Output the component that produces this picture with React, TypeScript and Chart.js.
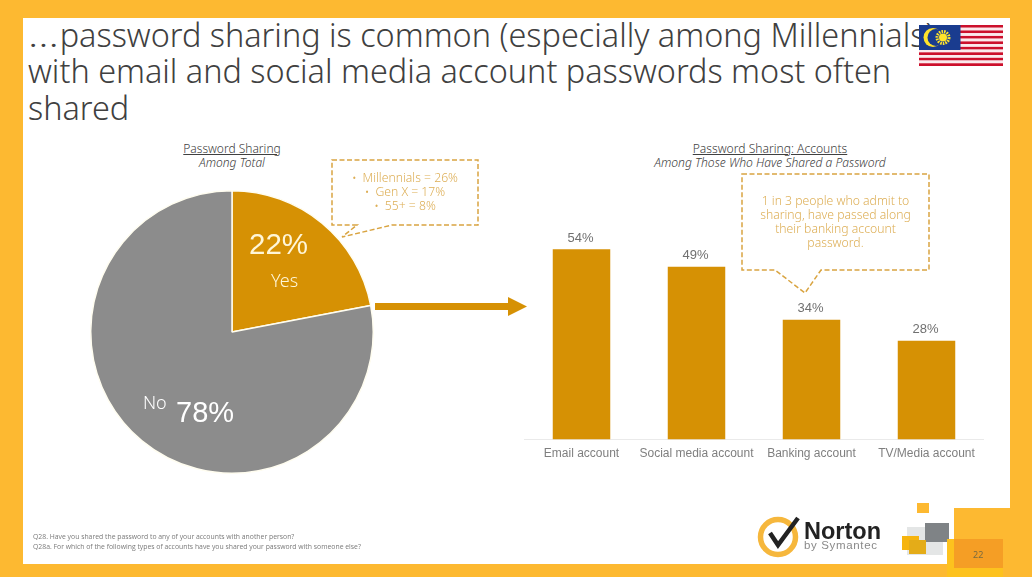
import React, { useEffect, useRef } from "react";
import { Chart, registerables } from "chart.js";

Chart.register(...registerables);

const pieLabels = ["Yes", "No"];
const pieValues = [22, 78];
const barCategories = ["Email account", "Social media account", "Banking account", "TV/Media account"];
const barValues = [54, 49, 34, 28];

const titleLines = [
  "password sharing is common (especially among Millennials)",
  "with email and social media account passwords most often",
  "shared",
];
const calloutGenerations = ["Millennials = 26%", "Gen X = 17%", "55+ = 8%"];
const calloutBanking = ["1 in 3 people who admit to", "sharing, have passed along", "their banking account", "password."];
const footnotes = [
  "Q28. Have you shared the password to any of your accounts with another person?",
  "Q28a. For which of the following types of accounts have you shared your password with someone else?",
];

const YELLOW = "#FDB931";
const GOLD = "#D69104";
const GREY = "#8C8C8C";
const LIGHT = '"Noto Sans", sans-serif';
const ARIAL = '"Liberation Sans", Arial, sans-serif';

const abs = (x: number, y: number, extra: React.CSSProperties = {}): React.CSSProperties => ({
  position: "absolute",
  left: x,
  top: y,
  whiteSpace: "nowrap",
  ...extra,
});

const valueLabels = {
  id: "valueLabels",
  afterDatasetsDraw(chart: any) {
    const { ctx } = chart;
    const meta = chart.getDatasetMeta(0);
    ctx.save();
    ctx.font = `13px ${ARIAL}`;
    ctx.fillStyle = "#707070";
    ctx.textAlign = "center";
    ctx.textBaseline = "alphabetic";
    meta.data.forEach((bar: any, i: number) => {
      ctx.fillText(`${barValues[i]}%`, bar.x - 1, bar.y - 7.5);
    });
    ctx.restore();
  },
};

export default function App() {
  const pieRef = useRef<HTMLCanvasElement>(null);
  const barRef = useRef<HTMLCanvasElement>(null);

  useEffect(() => {
    document.body.style.margin = "0";
    const pie = new Chart(pieRef.current!, {
      type: "pie",
      data: {
        labels: pieLabels,
        datasets: [{ data: pieValues, backgroundColor: [GOLD, GREY], borderColor: "#FFFDF0", borderWidth: 1.5 }],
      },
      options: {
        responsive: false,
        animation: false,
        layout: { padding: 8 },
        plugins: { legend: { display: false }, tooltip: { enabled: false } },
      },
    });
    const bar = new Chart(barRef.current!, {
      type: "bar",
      data: {
        labels: barCategories,
        datasets: [{ data: barValues, backgroundColor: GOLD, categoryPercentage: 0.5, barPercentage: 1 }],
      },
      options: {
        responsive: false,
        animation: false,
        layout: { padding: { top: 28, bottom: 2, left: 0, right: 0 } },
        plugins: { legend: { display: false }, tooltip: { enabled: false } },
        scales: {
          x: {
            grid: { display: false, drawTicks: false },
            border: { color: "#EAEAEA" },
            ticks: { color: "#7f7f7f", font: { family: ARIAL, size: 12 }, padding: 7, maxRotation: 0, autoSkip: false },
          },
          y: { display: false, min: 0, max: 60 },
        },
      },
      plugins: [valueLabels],
    });
    return () => {
      pie.destroy();
      bar.destroy();
    };
  }, []);

  const stripes = Array.from({ length: 15 }, (_, i) => i);

  return (
    <div style={{ position: "relative", width: 1032, height: 577, background: YELLOW, overflow: "hidden" }}>
      <div style={abs(23, 18, { width: 987, height: 546, background: "#fff", whiteSpace: "normal" })} />

      <div style={abs(28, 15.5, { fontFamily: LIGHT, fontWeight: 300, fontSize: 32.4, lineHeight: "36.7px", color: "#404040" })}>
        {titleLines.map((t, i) => (
          <div key={t}>
            {i === 0 ? (
              <span style={{ display: "inline-block", transform: "scaleX(1.3)", transformOrigin: "left", marginRight: 8 }}>…</span>
            ) : null}
            {t}
          </div>
        ))}
      </div>

      <svg width={84} height={41} style={abs(919, 25)}>
        {stripes.map((i) => (
          <rect key={i} x={0} y={(i * 41) / 15} width={84} height={41 / 15} fill={i % 2 ? "#FBE9EC" : "#CC0F2B"} />
        ))}
        <rect x={0} y={0} width={41.5} height={25} fill="#1A3C8F" />
        <circle cx={14} cy={12.5} r={9.5} fill="#FFE32B" />
        <circle cx={17} cy={12.5} r={8.5} fill="#1A3C8F" />
        <circle cx={24} cy={12.5} r={6} fill="none" stroke="#FFE32B" strokeWidth={3} strokeDasharray="1.6 1" />
        <circle cx={24} cy={12.5} r={4} fill="#FFE32B" />
      </svg>

      <div style={abs(82, 142, { width: 300, textAlign: "center", fontFamily: LIGHT, fontWeight: 300, fontSize: 12, lineHeight: "14px", color: "#404040" })}>
        <div style={{ textDecoration: "underline" }}>Password Sharing</div>
        <div style={{ fontStyle: "italic" }}>Among Total</div>
      </div>
      <div style={abs(620, 142, { width: 300, textAlign: "center", fontFamily: LIGHT, fontWeight: 300, fontSize: 12.1, lineHeight: "14px", color: "#404040" })}>
        <div style={{ textDecoration: "underline" }}>Password Sharing: Accounts</div>
        <div style={{ fontStyle: "italic" }}>Among Those Who Have Shared a Password</div>
      </div>

      <canvas ref={pieRef} width={300} height={300} style={abs(82, 182)} />
      <canvas ref={barRef} width={460} height={270} style={abs(524, 200)} />

      <div style={abs(249, 227, { fontFamily: ARIAL, fontSize: 29.5, color: "#FFF6D8" })}>{pieValues[0]}%</div>
      <div style={abs(271, 268, { fontFamily: LIGHT, fontWeight: 300, fontSize: 18, color: "#FFF6D8" })}>{pieLabels[0]}</div>
      <div style={abs(143, 390, { fontFamily: LIGHT, fontWeight: 300, fontSize: 18, color: "#fff" })}>{pieLabels[1]}</div>
      <div style={abs(176, 396, { fontFamily: ARIAL, fontSize: 29, color: "#fff" })}>{pieValues[1]}%</div>

      <svg width={1032} height={577} style={abs(0, 0, { pointerEvents: "none" })}>
        <path d="M332 160 H478 V225 H392 L342 237 L357 225 H332 Z" fill="none" stroke="#D9A441" strokeWidth={1.5} strokeDasharray="5 2.5" />
        <path d="M742 174 H929 V270 H821 L805 293 L775 270 H742 Z" fill="none" stroke="#D9A441" strokeWidth={1.5} strokeDasharray="5 2.5" />
        <rect x={375} y={303} width={134} height={7} fill={GOLD} />
        <path d="M508 297 L527 306.5 L508 316 Z" fill={GOLD} />
      </svg>

      <div style={abs(332, 171, { width: 146, textAlign: "center", fontFamily: LIGHT, fontWeight: 300, fontSize: 12.2, lineHeight: "14px", color: "#DDAE55" })}>
        {calloutGenerations.map((t) => (
          <div key={t}>
            <span style={{ marginRight: 6 }}>•</span>
            {t}
          </div>
        ))}
      </div>
      <div style={abs(742, 194, { width: 187, textAlign: "center", fontFamily: LIGHT, fontWeight: 300, fontSize: 12.2, lineHeight: "14px", color: "#DDAE55" })}>
        {calloutBanking.map((t) => (
          <div key={t}>{t}</div>
        ))}
      </div>

      <div style={abs(33, 532, { fontFamily: '"Open Sans", sans-serif', fontSize: 6.85, lineHeight: "10px", color: "#7a7a7a" })}>
        {footnotes.map((t) => (
          <div key={t}>{t}</div>
        ))}
      </div>

      <svg width={1032} height={577} style={abs(0, 0, { pointerEvents: "none" })}>
        <circle cx={778} cy={537} r={17.5} fill="none" stroke="#F6B73C" strokeWidth={5.5} />
        <path d="M770 533 L778 545 L798 518" fill="none" stroke="#222" strokeWidth={4.5} />
        <rect x={917} y={503} width={12} height={10} fill={YELLOW} />
        <rect x={907} y={527} width={36} height={28} fill="#E4E6E6" />
        <rect x={925} y={523} width={24} height={19} fill="#7F8386" />
        <rect x={902} y={536} width={17} height={14} fill="#F6B40E" />
        <rect x={909} y={540} width={17} height={14} fill="#E4AC18" />
        <path d="M954 508 H1010 V564 H954 Z" fill={YELLOW} />
        <rect x={947} y={539} width={56} height={38} fill="#FDC21E" />
        <rect x={954} y={539} width={49} height={29} fill="#F59E25" />
      </svg>
      <div style={abs(804, 519, { fontFamily: ARIAL, fontWeight: 700, fontSize: 23.5, lineHeight: "24px", color: "#222" })}>Norton</div>
      <div style={abs(804, 538, { fontFamily: ARIAL, fontSize: 11.5, lineHeight: "14px", letterSpacing: 0.65, color: "#8a8a8a" })}>by Symantec</div>
      <div style={abs(973, 549, { fontFamily: LIGHT, fontSize: 9, lineHeight: "12px", color: "#7a6a40" })}>22</div>
    </div>
  );
}
